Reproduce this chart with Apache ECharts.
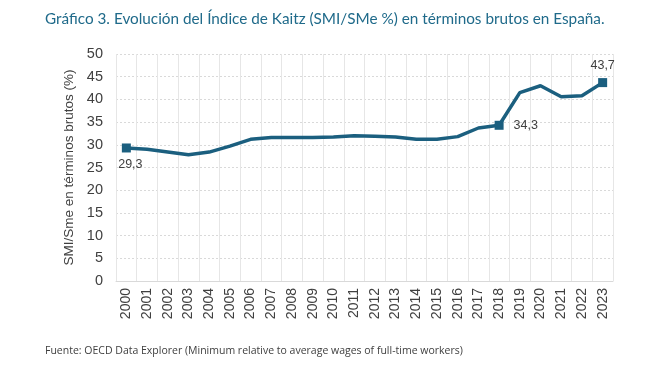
<!DOCTYPE html>
<html><head><meta charset="utf-8">
<script src="https://cdn.jsdelivr.net/npm/echarts@6/dist/echarts.min.js"></script>
<style>html,body{margin:0;padding:0;background:#fff}#c{width:659px;height:371px}</style>
</head><body><div id="c"></div>
<script>
const years = ['2000','2001','2002','2003','2004','2005','2006','2007','2008','2009','2010','2011','2012','2013','2014','2015','2016','2017','2018','2019','2020','2021','2022','2023'];
const kaitz = [29.3,29.0,28.4,27.8,28.4,29.7,31.2,31.6,31.6,31.6,31.7,32.0,31.9,31.7,31.2,31.2,31.8,33.7,34.3,41.5,43.0,40.6,40.8,43.7];
const labelled = {'2000':'bottom','2018':'right','2023':'top'};
const yTicks = [0,5,10,15,20,25,30,35,40,45,50];

const chart = echarts.init(document.getElementById('c'));
chart.setOption({
  animation:false,
  title:[{text:'Gráfico 3. Evolución del Índice de Kaitz (SMI/SMe %) en términos brutos en España.',left:40,top:7,
    textStyle:{fontFamily:'Lato',fontSize:15.3,fontWeight:'normal',color:'#1f6a8a'}},
    {text:'Fuente: OECD Data Explorer (Minimum relative to average wages of full-time workers)',left:40,top:341,
    textStyle:{fontFamily:'Open Sans',fontSize:10.5,fontWeight:'normal',color:'#404040'}}],
  grid:{left:116,right:46,top:54,bottom:90},
  xAxis:{type:'category',data:years,boundaryGap:true,
    axisLine:{lineStyle:{color:'#d9d9d9'}},axisTick:{show:false},
    axisLabel:{rotate:90,color:'#404040',fontFamily:'Liberation Sans',fontSize:14,margin:7,interval:0},
    splitLine:{show:true,interval:0,lineStyle:{color:'#e6e6e6'}}},
  yAxis:{type:'value',min:0,max:50,interval:5,
    name:'SMI/Sme en términos brutos (%)',nameLocation:'middle',nameGap:39,
    nameTextStyle:{fontFamily:'Liberation Sans',fontSize:13.5,color:'#404040'},
    axisLine:{show:false},axisTick:{show:false},
    axisLabel:{color:'#404040',fontFamily:'Liberation Sans',fontSize:14.5,margin:13,
      formatter:v=>yTicks.includes(v)?String(v):''},
    splitLine:{lineStyle:{color:'#d9d9d9',type:[2,2]}}},
  series:[{type:'line',data:kaitz.map((v,i)=>{
      const pos=labelled[years[i]];
      if(!pos) return {value:v,symbol:'none'};
      return {value:v,symbol:'rect',symbolSize:9,
        label:{show:true,position:pos,distance:pos==='right'?10:6,offset:pos==='bottom'?[4,0]:[0,0],
          formatter:p=>String(p.value).replace('.',','),
          color:'#404040',fontFamily:'Liberation Sans',fontSize:12.5}};
    }),
    lineStyle:{color:'#1b5f7f',width:3.5},itemStyle:{color:'#1b5f7f'},showSymbol:true}]
});
</script></body></html>
